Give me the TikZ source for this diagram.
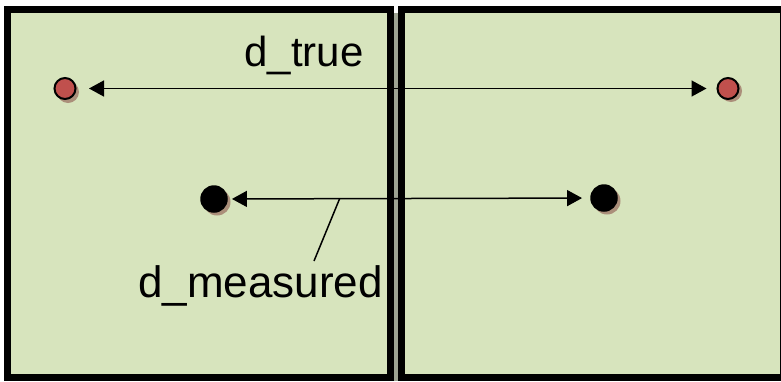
\documentclass[tikz,border=0pt]{standalone}
\usepackage{fontspec}
\setmainfont{Liberation Sans}
\usetikzlibrary{arrows.meta}
\definecolor{boxgreen}{HTML}{D7E4BD}
\definecolor{dotred}{HTML}{C0504D}
\definecolor{shadowc}{HTML}{A07A6A}
\definecolor{gapgray}{HTML}{9DA392}
\tikzset{
  panel/.style={draw=black, line width=7pt, fill=boxgreen},
  reddot/.style={circle, draw=black, line width=2pt, fill=dotred, minimum size=21pt, inner sep=0pt},
  blackdot/.style={circle, fill=black, minimum size=27.5pt, inner sep=0pt},
  dotshadow/.style={circle, fill=shadowc, opacity=0.8, inner sep=0pt},
  dim/.style={line width=1.5pt, {Triangle[length=15pt,width=16pt]}-{Triangle[length=15pt,width=16pt]}},
  lbl/.style={inner sep=0pt}
}
\begin{document}
\begin{tikzpicture}[x=1pt,y=-1pt]
\useasboundingbox (0,0) rectangle (781,381);
\clip (0,0) rectangle (781,381);
\fill[white] (0,0) rectangle (781,381);
\fill[gapgray] (393,13) rectangle (398,381);
% panels
\draw[panel] (7.5,9.5) rectangle (390,377.5);
\draw[panel] (401,9.5) rectangle (783.5,377.5);
% dot shadows
\node[dotshadow, minimum size=22pt] at (68,92) {};
\node[dotshadow, minimum size=22pt] at (731,91) {};
\node[dotshadow, minimum size=27pt] at (217,202) {};
\node[dotshadow, minimum size=27pt] at (607,201) {};
% dots
\node[reddot] (rl) at (65,88.5) {};
\node[reddot] (rr) at (728,88.5) {};
\node[blackdot] (bl) at (214,199) {};
\node[blackdot] (br) at (604,198) {};
% arrows
\draw[dim, shorten <=12.5pt, shorten >=10pt] (rl) -- (rr);
\draw[dim, shorten <=4pt, shorten >=8pt] (bl) -- (br);
% labels
\node[lbl, font=\fontsize{42}{50}\selectfont, anchor=base] (dtrue) at (304,66) {d\_true};
\node[lbl, font=\fontsize{44}{52}\selectfont, anchor=base] (dmeas) at (260.5,297) {d\_measured};
\coordinate (lead) at (339.5,199);
\coordinate (leadend) at (314,261);
\draw[line width=1.5pt] (lead) -- (leadend);
\end{tikzpicture}
\end{document}
